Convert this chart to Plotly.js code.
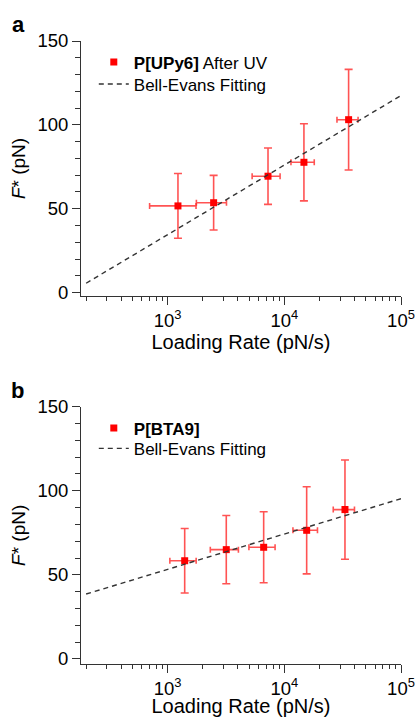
<!DOCTYPE html>
<html>
<head>
<meta charset="utf-8">
<script src="https://cdn.plot.ly/plotly-3.0.1.min.js"></script>
<style>html,body{margin:0;padding:0;background:#fff;}#chart{width:418px;height:717px;}</style>
</head>
<body>
<div id="chart"></div>
<script>
// Panel a: P[UPy6] After UV
const aLoadingRate = [1225, 2477, 7245, 14720, 35560];
const aForce = [51.7, 53.6, 69.4, 77.7, 103.1];
const aRateErr = [525, 715, 1950, 3325, 7300];
const aForceErr = [19.3, 16.3, 16.8, 23.0, 30.0];
const aFitRate = [200, 100000];
const aFitForce = [5.6, 117.5];

// Panel b: P[BTA9]
const bLoadingRate = [1399, 3179, 6650, 15540, 33090];
const bForce = [58.4, 65.0, 66.4, 76.5, 88.8];
const bRateErr = [355, 860, 1680, 3690, 6830];
const bForceErr = [19.2, 20.3, 21.1, 25.9, 29.5];
const bFitRate = [200, 100000];
const bFitForce = [38.6, 95.3];

// Axis ticks
const yMajorTicks = [0, 50, 100, 150];
const xMajorTicks = [1000, 10000, 100000];
const xMajorLabels = ['10<sup>3</sup>', '10<sup>4</sup>', '10<sup>5</sup>'];
const xMinorTicks = [200, 300, 400, 500, 600, 700, 800, 900,
  2000, 3000, 4000, 5000, 6000, 7000, 8000, 9000,
  20000, 30000, 40000, 50000, 60000, 70000, 80000, 90000];

const aName = '<b>P[UPy6]</b> After UV';
const bName = '<b>P[BTA9]</b>';
const fitName = 'Bell-Evans Fitting';
const xTitle = 'Loading Rate (pN/s)';
const yTitle = '<i>F</i>* (pN)';

const FONT = '"Liberation Sans", Arial, Helvetica, sans-serif';
const errColor = 'rgba(255,40,40,0.8)';

function pointsTrace(x, y, ex, ey, name, xa, ya, leg) {
  return {
    x: x, y: y, name: name, type: 'scatter', mode: 'markers',
    xaxis: xa, yaxis: ya, legend: leg,
    marker: {symbol: 'square', size: 7, color: '#ff0000'},
    error_x: {type: 'data', array: ex, visible: true, color: errColor, thickness: 1.6, width: 3},
    error_y: {type: 'data', array: ey, visible: true, color: errColor, thickness: 1.6, width: 4}
  };
}
function fitTrace(x, y, xa, ya, leg) {
  return {
    x: x, y: y, name: fitName, type: 'scatter', mode: 'lines',
    xaxis: xa, yaxis: ya, legend: leg,
    line: {color: '#333333', width: 1.4, dash: '5px,4px'}
  };
}

const data = [
  pointsTrace(aLoadingRate, aForce, aRateErr, aForceErr, aName, 'x', 'y', 'legend'),
  fitTrace(aFitRate, aFitForce, 'x', 'y', 'legend2'),
  pointsTrace(bLoadingRate, bForce, bRateErr, bForceErr, bName, 'x2', 'y2', 'legend3'),
  fitTrace(bFitRate, bFitForce, 'x2', 'y2', 'legend4')
];

function xAxis(anchor) {
  return {
    type: 'log', range: [2.257, 5], anchor: anchor,
    tickmode: 'array', tickvals: xMajorTicks, ticktext: xMajorLabels,
    ticks: 'outside', ticklen: 8, tickwidth: 1, tickcolor: '#333',
    showline: true, linecolor: '#333', linewidth: 1,
    showgrid: false, zeroline: false,
    minor: {tickmode: 'array', tickvals: xMinorTicks, ticks: 'outside', ticklen: 4, tickwidth: 1, tickcolor: '#333', showgrid: false},
    tickfont: {family: FONT, size: 18.5, color: '#000'},
    title: {text: xTitle, font: {family: FONT, size: 20, color: '#000'}, standoff: 2}
  };
}
function yAxis(domain, anchor, rmin) {
  return {
    domain: domain, anchor: anchor, range: [rmin, 150],
    tickmode: 'array', tickvals: yMajorTicks,
    ticks: 'outside', ticklen: 8, tickwidth: 1, tickcolor: '#333',
    showline: true, linecolor: '#333', linewidth: 1,
    showgrid: false, zeroline: false,
    minor: {dtick: 10, ticks: 'outside', ticklen: 5, tickwidth: 1, tickcolor: '#333', showgrid: false},
    tickfont: {family: FONT, size: 18.5, color: '#000'},
    title: {text: yTitle, font: {family: FONT, size: 19, color: '#000'}, standoff: 6}
  };
}
function legendAt(y) {
  return {x: 0.04, y: y, xanchor: 'left', yanchor: 'top', bgcolor: 'rgba(0,0,0,0)',
          font: {family: FONT, size: 17, color: '#000'}, tracegroupgap: 0};
}

const layout = {
  width: 418, height: 717,
  margin: {l: 81, r: 17, t: 41, b: 53},
  paper_bgcolor: '#fff', plot_bgcolor: '#fff',
  font: {family: FONT, color: '#000'},
  showlegend: true,
  xaxis: xAxis('y'),
  yaxis: yAxis([0.5907, 1], 'x', -2),
  xaxis2: xAxis('y2'),
  yaxis2: yAxis([0, 0.413], 'x2', -3),
  legend: legendAt(0.9944),
  legend2: legendAt(0.9591),
  legend3: legendAt(0.4069),
  legend4: legendAt(0.3743),
  annotations: [
    {text: '<b>a</b>', xref: 'paper', yref: 'paper', x: -0.222, y: 1.027, xanchor: 'left', yanchor: 'middle', showarrow: false, font: {family: FONT, size: 22, color: '#000'}},
    {text: '<b>b</b>', xref: 'paper', yref: 'paper', x: -0.226, y: 0.4385, xanchor: 'left', yanchor: 'middle', showarrow: false, font: {family: FONT, size: 22, color: '#000'}}
  ]
};

Plotly.newPlot('chart', data, layout, {displayModeBar: false, staticPlot: true});
</script>
</body>
</html>
